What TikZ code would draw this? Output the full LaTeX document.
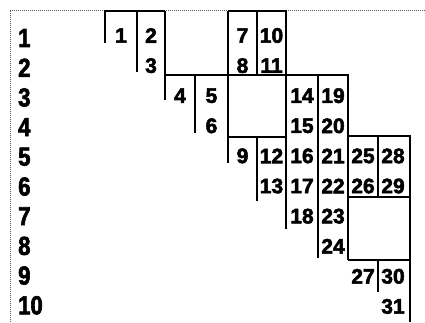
\documentclass[tikz,border=0pt]{standalone}
\usepackage{fontspec}
\setmainfont{Liberation Sans}[FakeBold=2.5]
\newfontfamily\labfont{Liberation Sans}[FakeStretch=0.85,FakeBold=2.5]
\begin{document}
\begin{tikzpicture}[x=1pt,y=-1pt,
  gridline/.style={black,line width=1.2pt},
  border/.style={gray!70!black,line width=1pt,dash pattern=on 1pt off 1pt},
  cellnum/.style={inner sep=0pt,font=\fontsize{21}{21}\selectfont\bfseries},
  rowlab/.style={inner sep=0pt,anchor=west,font=\labfont\fontsize{26}{26}\selectfont\bfseries}]
\useasboundingbox (0,0) rectangle (425,322);
% dotted frame
\draw[border] (10,322) -- (10,10) -- (425,10);
% row labels
\foreach \i in {1,...,10}
  \node[rowlab] (r\i) at (18,{38+29.7*(\i-1)}) {\i};
% cell numbers: column, row, number
\foreach \c/\r/\n in {1/1/1, 2/1/2, 2/2/3, 3/3/4, 4/3/5, 4/4/6,
   5/1/7, 5/2/8, 5/5/9, 6/1/10, 6/2/11, 6/5/12, 6/6/13,
   7/3/14, 7/4/15, 7/5/16, 7/6/17, 7/7/18,
   8/3/19, 8/4/20, 8/5/21, 8/6/22, 8/7/23, 8/8/24,
   9/5/25, 9/6/26, 9/9/27, 10/5/28, 10/6/29, 10/9/30, 10/10/31}{
  \pgfmathsetmacro{\cx}{{121,151,180,211.5,242.5,271.5,302,333,363,393}[\c-1]}
  \node[cellnum] (n\n) at (\cx,{35.5+30.1*(\r-1)}) {\n};
}
% grid lines
\draw[gridline] (105,43) -- (105,11) -- (165,11);
\draw[gridline] (228,11) -- (286,11) -- (286,229);
\draw[gridline] (137,11) -- (137,72);
\draw[gridline] (165,11) -- (165,100);
\draw[gridline] (165,75) -- (348,75) -- (348,260);
\draw[gridline] (195,75) -- (195,133);
\draw[gridline] (228,11) -- (228,163);
\draw[gridline] (257,11) -- (257,75);
\draw[gridline] (257,137) -- (257,201);
\draw[gridline] (228,137) -- (286,137);
\draw[gridline] (318,75) -- (318,258);
\draw[gridline] (348,136) -- (410,136) -- (410,322);
\draw[gridline] (378,136) -- (378,197);
\draw[gridline] (348,197) -- (410,197);
\draw[gridline] (348,260) -- (410,260);
\draw[gridline] (378,260) -- (378,292);
\end{tikzpicture}
\end{document}
